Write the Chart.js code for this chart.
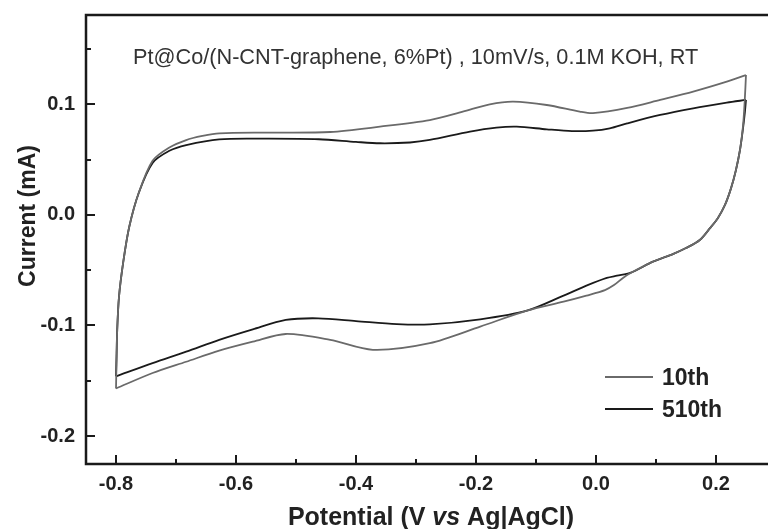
<!DOCTYPE html>
<html><head><meta charset="utf-8">
<script src="https://cdn.jsdelivr.net/npm/chart.js@4.4.1/dist/chart.umd.min.js"></script>
<style>html,body{margin:0;padding:0;background:#fff;overflow:hidden}#wrap{width:768px;height:529px;position:relative}</style>
</head><body><div id="wrap"><canvas id="c" width="768" height="529"></canvas></div>
<script>
// ---- data ----
const cycleLabels = ['10th', '510th'];

// 10th cycle (outer loop) – anodic sweep -0.8 -> 0.25 V
const v10Anodic = [-0.800,-0.799,-0.798,-0.795,-0.788,-0.778,-0.762,-0.739,-0.711,-0.683,-0.656,-0.628,-0.545,-0.443,-0.360,-0.277,-0.222,-0.177,-0.138,-0.082,-0.027,-0.005,0.052,0.107,0.162,0.218,0.250];
const i10Anodic = [-0.157,-0.130,-0.104,-0.074,-0.043,-0.011,0.020,0.049,0.061,0.0677,0.0714,0.0738,0.0744,0.0750,0.0798,0.0858,0.0934,0.1000,0.1024,0.0994,0.0934,0.0920,0.0967,0.1040,0.1115,0.1205,0.1265];
// 10th cycle – cathodic sweep 0.25 -> -0.8 V
const v10Cathodic = [0.250,0.248,0.245,0.240,0.233,0.225,0.215,0.203,0.190,0.173,0.150,0.130,0.095,0.057,0.045,0.030,0.015,-0.016,-0.054,-0.115,-0.193,-0.277,-0.372,-0.443,-0.517,-0.572,-0.628,-0.683,-0.739,-0.800];
const i10Cathodic = [0.1265,0.104,0.080,0.0587,0.040,0.024,0.009,-0.003,-0.012,-0.0227,-0.030,-0.035,-0.0423,-0.0528,-0.057,-0.0635,-0.068,-0.073,-0.0785,-0.0866,-0.101,-0.116,-0.122,-0.113,-0.1077,-0.1147,-0.1228,-0.1328,-0.143,-0.157];

// 510th cycle (inner loop) – anodic sweep
const v510Anodic = [-0.800,-0.799,-0.798,-0.795,-0.788,-0.778,-0.762,-0.739,-0.711,-0.683,-0.628,-0.545,-0.462,-0.400,-0.360,-0.310,-0.277,-0.210,-0.166,-0.132,-0.082,-0.040,-0.005,0.023,0.052,0.107,0.162,0.218,0.250];
const i510Anodic = [-0.146,-0.125,-0.104,-0.074,-0.043,-0.011,0.020,0.047,0.058,0.0632,0.0684,0.0689,0.0684,0.0660,0.0648,0.0655,0.0678,0.0753,0.0789,0.0798,0.0774,0.0758,0.0762,0.0783,0.0828,0.0904,0.0964,0.1015,0.1040];
// 510th cycle – cathodic sweep
const v510Cathodic = [0.250,0.248,0.245,0.240,0.233,0.225,0.215,0.203,0.190,0.173,0.150,0.130,0.095,0.057,0.035,0.018,-0.016,-0.054,-0.115,-0.193,-0.277,-0.332,-0.400,-0.463,-0.517,-0.572,-0.628,-0.683,-0.739,-0.800];
const i510Cathodic = [0.104,0.092,0.078,0.0587,0.040,0.024,0.009,-0.003,-0.012,-0.0227,-0.030,-0.035,-0.0423,-0.0525,-0.055,-0.057,-0.064,-0.073,-0.0866,-0.0944,-0.099,-0.0988,-0.096,-0.0935,-0.095,-0.1035,-0.113,-0.1237,-0.134,-0.146];

// axes
const xMajorTicks = [-0.8, -0.6, -0.4, -0.2, 0.0, 0.2];
const xMinorTicks = [-0.7, -0.5, -0.3, -0.1, 0.1];
const yMajorTicks = [-0.2, -0.1, 0.0, 0.1];
const yMinorTicks = [-0.15, -0.05, 0.05, 0.15];
const xRange = [-0.85, 0.2867];
const yRange = [-0.2253, 0.1808];

const annotationText = 'Pt@Co/(N-CNT-graphene, 6%Pt) , 10mV/s, 0.1M KOH, RT';
const xTitleParts = ['Potential (V ', 'vs', ' Ag|AgCl)'];
const yTitle = 'Current (mA)';

// ---- styles ----
const FONT = '"Liberation Sans", Arial, Helvetica, sans-serif';
const colors = ['#6a6a6a', '#1a1a1a'];
const textColor = '#222';

const zip = (v, i) => v.map((x, k) => ({x: x, y: i[k]}));
const mk = (label, v, i, color) => ({
  label: label, data: zip(v, i), showLine: true, borderColor: color, backgroundColor: color,
  borderWidth: 1.8, pointRadius: 0, tension: 0.3, fill: false
});

const datasets = [
  mk(cycleLabels[0], v10Anodic, i10Anodic, colors[0]),
  mk(cycleLabels[0], v10Cathodic, i10Cathodic, colors[0]),
  mk(cycleLabels[1], v510Anodic, i510Anodic, colors[1]),
  mk(cycleLabels[1], v510Cathodic, i510Cathodic, colors[1])
];

const decor = {
  id: 'decor',
  afterDraw(chart) {
    const ctx = chart.ctx;
    const {left, right, top, bottom} = chart.chartArea;
    const xs = chart.scales.x, ys = chart.scales.y;
    ctx.save();
    ctx.strokeStyle = '#1a1a1a';
    ctx.lineCap = 'butt';
    // frame (top, left, bottom)
    ctx.lineWidth = 2.5;
    ctx.beginPath();
    ctx.moveTo(left, top); ctx.lineTo(right, top);
    ctx.moveTo(left, top - 1.25); ctx.lineTo(left, bottom + 1.25);
    ctx.moveTo(left, bottom); ctx.lineTo(right, bottom);
    ctx.stroke();
    // inward ticks
    ctx.lineWidth = 2;
    ctx.beginPath();
    xMajorTicks.forEach(v => { const p = Math.round(xs.getPixelForValue(v)); ctx.moveTo(p, bottom); ctx.lineTo(p, bottom - 9); });
    xMinorTicks.forEach(v => { const p = Math.round(xs.getPixelForValue(v)); ctx.moveTo(p, bottom); ctx.lineTo(p, bottom - 5); });
    yMajorTicks.forEach(v => { const p = Math.round(ys.getPixelForValue(v)); ctx.moveTo(left, p); ctx.lineTo(left + 9, p); });
    yMinorTicks.forEach(v => { const p = Math.round(ys.getPixelForValue(v)); ctx.moveTo(left, p); ctx.lineTo(left + 5, p); });
    ctx.stroke();

    // annotation
    ctx.fillStyle = '#333';
    ctx.textBaseline = 'alphabetic';
    ctx.textAlign = 'left';
    ctx.font = '21.7px ' + FONT;
    ctx.fillText(annotationText, 133, 64);

    // legend
    const legY = [377, 409];
    cycleLabels.forEach((lab, k) => {
      ctx.strokeStyle = colors[k];
      ctx.lineWidth = 1.8;
      ctx.beginPath(); ctx.moveTo(605, legY[k]); ctx.lineTo(653, legY[k]); ctx.stroke();
      ctx.fillStyle = textColor;
      ctx.font = 'bold 23px ' + FONT;
      ctx.fillText(lab, 662, legY[k] + 8);
    });

    // x title with italic "vs"
    const fonts = ['bold 25px ' + FONT, 'italic bold 25px ' + FONT, 'bold 25px ' + FONT];
    let widths = xTitleParts.map((t, k) => { ctx.font = fonts[k]; return ctx.measureText(t).width; });
    const total = widths.reduce((a, b) => a + b, 0);
    let x0 = 431 - total / 2;
    ctx.fillStyle = textColor;
    xTitleParts.forEach((t, k) => { ctx.font = fonts[k]; ctx.fillText(t, x0, 525); x0 += widths[k]; });

    // y title
    ctx.save();
    ctx.translate(35, 216);
    ctx.rotate(-Math.PI / 2);
    ctx.textAlign = 'center';
    ctx.font = 'bold 23px ' + FONT;
    ctx.fillText(yTitle, 0, 0);
    ctx.restore();
    ctx.restore();
  }
};

new Chart(document.getElementById('c'), {
  type: 'scatter',
  data: {datasets: datasets},
  options: {
    responsive: false,
    animation: false,
    devicePixelRatio: 1,
    layout: {padding: {top: 15, right: 0, left: 0, bottom: 0}},
    plugins: {legend: {display: false}, tooltip: {enabled: false}},
    scales: {
      x: {
        type: 'linear', min: xRange[0], max: xRange[1],
        afterFit(s) { s.height = 65; s.paddingLeft = 0; s.paddingRight = 0; },
        afterBuildTicks(s) { s.ticks = xMajorTicks.map(v => ({value: v})); },
        grid: {display: false, drawTicks: false},
        border: {display: false},
        ticks: {
          callback: v => v.toFixed(1), autoSkip: false, maxRotation: 0, padding: 8,
          color: textColor, font: {family: FONT, size: 20, weight: 'bold'}
        }
      },
      y: {
        type: 'linear', min: yRange[0], max: yRange[1],
        afterFit(s) { s.width = 86; s.paddingTop = 0; s.paddingBottom = 0; },
        afterBuildTicks(s) { s.ticks = yMajorTicks.map(v => ({value: v})); },
        grid: {display: false, drawTicks: false},
        border: {display: false},
        ticks: {
          callback: v => v.toFixed(1), autoSkip: false, padding: 11,
          color: textColor, font: {family: FONT, size: 20, weight: 'bold'}
        }
      }
    }
  },
  plugins: [decor]
});
</script>
</body></html>
